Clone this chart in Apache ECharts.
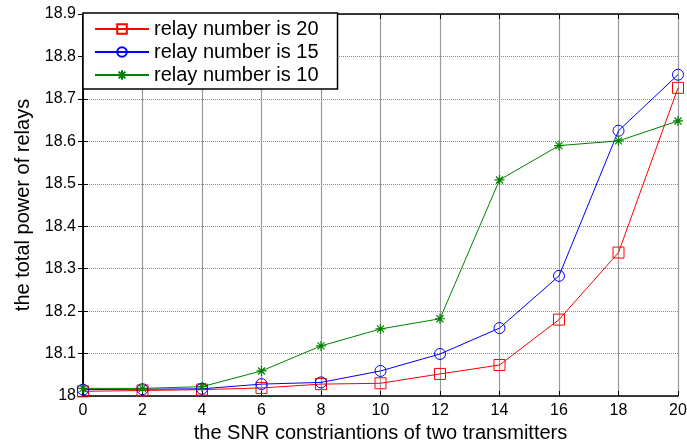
<!DOCTYPE html>
<html>
<head>
<meta charset="utf-8">
<script src="https://cdn.jsdelivr.net/npm/echarts@6/dist/echarts.min.js"></script>
<style>html,body{margin:0;padding:0;background:#fff;}#c{width:687px;height:443px;}</style>
</head>
<body>
<div id="c"></div>
<script>
var snr = [0, 2, 4, 6, 8, 10, 12, 14, 16, 18, 20];
var relay20 = [18.011, 18.013, 18.015, 18.019, 18.028, 18.030, 18.052, 18.073, 18.180, 18.338, 18.726];
var relay15 = [18.015, 18.016, 18.017, 18.028, 18.032, 18.059, 18.099, 18.160, 18.283, 18.625, 18.757];
var relay10 = [18.018, 18.018, 18.022, 18.059, 18.118, 18.158, 18.182, 18.509, 18.590, 18.601, 18.648];
var seriesNames = ['relay number is 20', 'relay number is 15', 'relay number is 10'];

var star = 'path://M5,0L5,10M0,5L10,5M1.5,1.5L8.5,8.5M1.5,8.5L8.5,1.5';
var font = 'Liberation Sans';
function pairs(ys){ return snr.map(function(x,i){ return [x, ys[i]]; }); }
var chart = echarts.init(document.getElementById('c'));
chart.setOption({
  animation: false,
  backgroundColor: '#fff',
  textStyle: { fontFamily: font, color: '#000' },
  grid: { left: 83, right: 9, top: 14, bottom: 47, containLabel: false, outerBoundsMode: 'none' },
  legend: {
    left: 83, top: 13, orient: 'vertical',
    backgroundColor: '#fff', borderColor: '#000', borderWidth: 1.5, borderRadius: 0,
    padding: [6, 19, 4, 11], itemGap: 3, itemWidth: 54, itemHeight: 12,
    textStyle: { fontFamily: font, fontSize: 20, color: '#000' },
    data: seriesNames
  },
  xAxis: [{
    type: 'value', min: 0, max: 20, interval: 2,
    name: 'the SNR constriantions of two transmitters', nameLocation: 'middle', nameGap: 27,
    nameTextStyle: { fontFamily: font, fontSize: 20, color: '#000' },
    axisLine: { lineStyle: { color: '#000', width: 1.5 } },
    axisTick: { inside: true, length: 5, lineStyle: { color: '#000' } },
    axisLabel: { fontFamily: font, fontSize: 16, color: '#000', margin: 7 },
    splitLine: { show: true, lineStyle: { color: '#999', width: 1.2 } }
  }, {
    type: 'value', min: 0, max: 20, interval: 2, position: 'top',
    axisLine: { show: true, lineStyle: { color: '#000', width: 1.5 } },
    axisTick: { show: true, inside: true, length: 5, lineStyle: { color: '#000' } },
    axisLabel: { show: false }, splitLine: { show: false }
  }],
  yAxis: [{
    type: 'value', min: 18, max: 18.9, interval: 0.1,
    name: 'the total power of relays', nameLocation: 'middle', nameGap: 48,
    nameTextStyle: { fontFamily: font, fontSize: 20, color: '#000' },
    axisLine: { show: true, lineStyle: { color: '#000', width: 1.5 } },
    axisTick: { show: true, inside: true, length: 5, lineStyle: { color: '#000' } },
    axisLabel: { fontFamily: font, fontSize: 16, color: '#000', margin: 7,
      formatter: function(v){ return Math.abs(v-18) < 1e-9 ? '18' : v.toFixed(1); } },
    splitLine: { show: true, lineStyle: { color: '#888', width: 1, type: 'dotted' } }
  }, {
    type: 'value', min: 18, max: 18.9, interval: 0.1, position: 'right',
    axisLine: { show: true, lineStyle: { color: '#000', width: 1.5 } },
    axisTick: { show: true, inside: true, length: 5, lineStyle: { color: '#000' } },
    axisLabel: { show: false }, splitLine: { show: false }
  }],
  series: [{
    name: seriesNames[0], type: 'line', data: pairs(relay20),
    symbol: 'rect', symbolSize: 11, showAllSymbol: true,
    lineStyle: { color: '#ff0000', width: 1 },
    itemStyle: { color: 'rgba(255,255,255,0)', borderColor: '#ff0000', borderWidth: 1 }
  }, {
    name: seriesNames[1], type: 'line', data: pairs(relay15),
    symbol: 'circle', symbolSize: 11, showAllSymbol: true,
    lineStyle: { color: '#0000ff', width: 1 },
    itemStyle: { color: 'rgba(255,255,255,0)', borderColor: '#0000ff', borderWidth: 1 }
  }, {
    name: seriesNames[2], type: 'line', data: pairs(relay10),
    symbol: star, symbolSize: 10, showAllSymbol: true,
    lineStyle: { color: '#008000', width: 1 },
    itemStyle: { color: 'rgba(255,255,255,0)', borderColor: '#008000', borderWidth: 1.2 }
  }]
});
</script>
</body>
</html>
